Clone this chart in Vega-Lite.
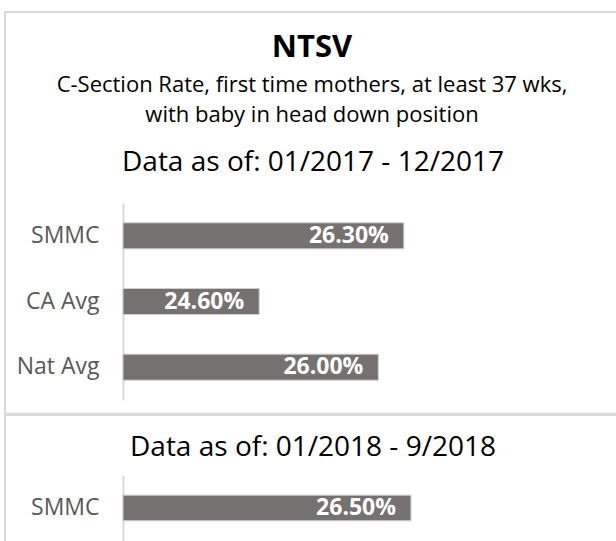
{
  "$schema": "https://vega.github.io/schema/vega-lite/v6.json",
  "background": "white",
  "padding": {"left": 4, "top": 11, "right": -30, "bottom": -30},
  "spacing": -1,
  "config": {
    "font": "Open Sans",
    "view": {"stroke": "#d9d9d9", "strokeWidth": 2},
    "axis": {"labelFont": "Open Sans"}
  },
  "title": {
    "text": "NTSV",
    "subtitle": ["C-Section Rate, first time mothers, at least 37 wks,", "with baby in head down position"],
    "anchor": "middle",
    "frame": "group",
    "offset": -116,
    "dx": -14,
    "font": "Open Sans",
    "fontSize": 31,
    "fontWeight": "bold",
    "color": "#000000",
    "subtitleFont": "Open Sans",
    "subtitleFontSize": 22,
    "subtitleColor": "#000000",
    "subtitleLineHeight": 30.5,
    "subtitlePadding": 11
  },
  "vconcat": [
    {
      "width": 642,
      "height": 401.7,
      "title": {
        "text": "Data as of: 01/2017 - 12/2017",
        "anchor": "middle",
        "dx": -13,
        "offset": -165,
        "fontSize": 28,
        "fontWeight": "normal",
        "color": "#000000"
      },
      "data": {"values": [
        {"site": "SMMC", "rate": 0.263},
        {"site": "CA Avg", "rate": 0.246},
        {"site": "Nat Avg", "rate": 0.26}
      ]},
      "encoding": {
        "y": {
          "field": "site", "type": "nominal",
          "scale": {"domain": ["SMMC", "CA Avg", "Nat Avg"], "range": [191, 388], "paddingInner": 0.604, "paddingOuter": 0.302},
          "axis": {"title": null, "offset": -118, "ticks": false, "domainColor": "#d9d9d9", "domainWidth": 2, "labelPadding": 24, "labelFontSize": 23, "labelColor": "#595959"}
        },
        "x": {
          "field": "rate", "type": "quantitative",
          "scale": {"domain": [0.23, 0.27], "range": [118, 458.4], "zero": false},
          "axis": null
        }
      },
      "layer": [
        {"mark": {"type": "bar", "color": "#767171", "stroke": "#d0cece", "strokeWidth": 1},
         "encoding": {"x2": {"datum": 0.23}}},
        {"mark": {"type": "text", "align": "right", "baseline": "middle", "dx": -15, "color": "#ffffff", "fontWeight": "bold", "fontSize": 23},
         "encoding": {"text": {"field": "rate", "type": "quantitative", "format": ".2%"}}}
      ]
    },
    {
      "width": 642,
      "height": 158,
      "title": {
        "text": "Data as of: 01/2018 - 9/2018",
        "anchor": "middle",
        "dx": -13,
        "offset": -47,
        "fontSize": 28,
        "fontWeight": "normal",
        "color": "#000000"
      },
      "data": {"values": [
        {"site": "SMMC", "rate": 0.265}
      ]},
      "encoding": {
        "y": {
          "field": "site", "type": "nominal",
          "scale": {"domain": ["SMMC"], "range": [60.6, 125.3], "paddingInner": 0.604, "paddingOuter": 0.302},
          "axis": {"title": null, "offset": -118, "ticks": false, "domainColor": "#d9d9d9", "domainWidth": 2, "labelPadding": 24, "labelFontSize": 23, "labelColor": "#595959"}
        },
        "x": {
          "field": "rate", "type": "quantitative",
          "scale": {"domain": [0, 0.3], "range": [118, 444]},
          "axis": null
        }
      },
      "layer": [
        {"mark": {"type": "bar", "color": "#767171", "stroke": "#d0cece", "strokeWidth": 1},
         "encoding": {"x2": {"datum": 0}}},
        {"mark": {"type": "text", "align": "right", "baseline": "middle", "dx": -15, "color": "#ffffff", "fontWeight": "bold", "fontSize": 23},
         "encoding": {"text": {"field": "rate", "type": "quantitative", "format": ".2%"}}}
      ]
    }
  ]
}
